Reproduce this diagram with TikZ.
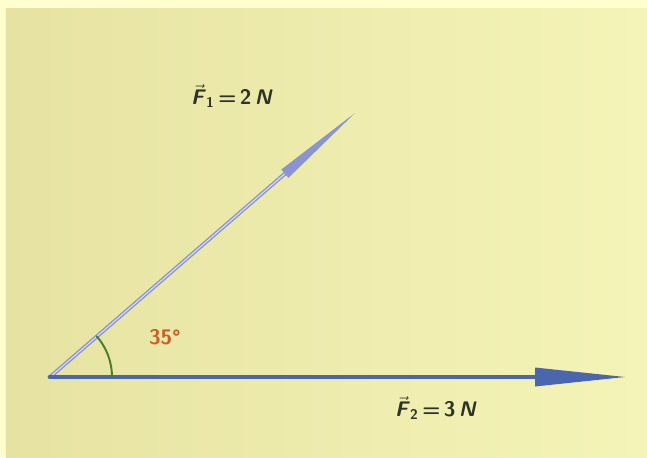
\documentclass[tikz,border=0pt]{standalone}
\usepackage{amsmath}
\usetikzlibrary{calc,angles}
\definecolor{paper}{HTML}{FEFECE}
\definecolor{photoL}{HTML}{E6E3A2}
\definecolor{photoR}{HTML}{F5F4B8}
\definecolor{vecblue}{HTML}{4A66AE}
\definecolor{veclav}{HTML}{8A94D0}
\definecolor{arcgreen}{HTML}{4E7A2C}
\definecolor{angorange}{HTML}{C8602A}
\definecolor{inkdark}{HTML}{2E3328}
\newcommand{\vlab}[2]{$\vec{\textsf{\textbf{\textit{F}}}}_{\textsf{\textbf{#1}}}$\,=\,#2\,\textit{N}}
\begin{document}
\begin{tikzpicture}[line cap=round,line join=round,every node/.style={inner sep=1pt,text=inkdark}]
  % Rand und Foto
  \useasboundingbox (0,0) rectangle (12.94,9.14);
  \fill[paper] (0,0) rectangle (12.94,9.14);
  \shade[left color=photoL,right color=photoR] (0.12,0) rectangle (12.94,8.98);
  % Punkte
  \coordinate (O) at (1.00,1.60);
  \coordinate (T2) at (12.50,1.60);
  \coordinate (T1) at (7.10,6.88);
  \coordinate (B2) at (10.70,1.60);
  \coordinate (B1) at ($(O)!0.77!(T1)$);
  % Vektor F1
  \draw[line width=2.2pt,veclav] (O) -- (B1);
  \draw[line width=0.6pt,white!70!veclav] (O) -- (B1);
  \fill[veclav] ($(B1)!0.11cm!90:(T1)$) -- (T1) -- ($(B1)!0.11cm!-90:(T1)$) -- cycle;
  % Vektor F2
  \draw[line width=2.8pt,vecblue] (O) -- (B2);
  \fill[vecblue] ($(B2)!0.19cm!90:(T2)$) -- (T2) -- ($(B2)!0.19cm!-90:(T2)$) -- cycle;
  % Winkel
  \pic[draw=arcgreen,line width=1.1pt,angle radius=1.24cm] {angle=T2--O--T1};
  \node[font=\large\sffamily\bfseries,text=angorange] (ang) at (3.30,2.40) {35°};
  % Beschriftungen
  \node[font=\large\sffamily\bfseries] (lab1) at (4.64,7.22) {\vlab{1}{2}};
  \node[font=\large\sffamily\bfseries] (lab2) at (8.72,0.98) {\vlab{2}{3}};
\end{tikzpicture}
\end{document}
